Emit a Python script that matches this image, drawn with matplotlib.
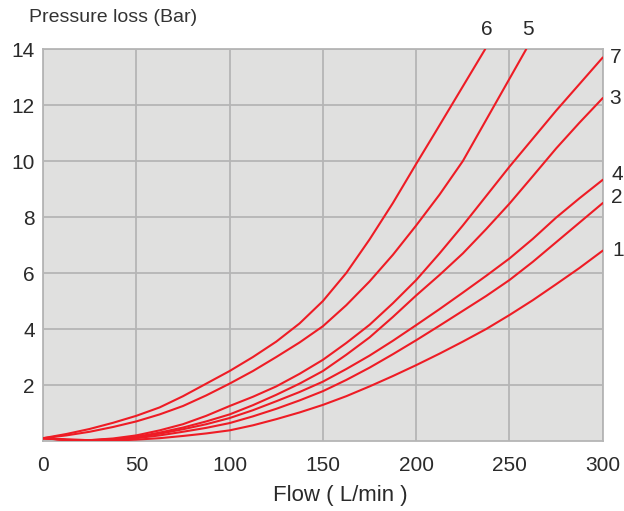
import matplotlib
matplotlib.use("Agg")
import matplotlib.pyplot as plt

plt.rcParams["font.family"] = ["Liberation Sans", "DejaVu Sans"]

# flow (L/min) and pressure loss (bar)
x_std = [0, 12.5, 25, 37.5, 50, 62.5, 75, 87.5, 100, 112.5, 125, 137.5, 150,
         162.5, 175, 187.5, 200, 212.5, 225, 237.5, 250, 262.5, 275, 287.5, 300]

x6 = [0, 12.5, 25, 37.5, 50, 62.5, 75, 87.5, 100, 112.5, 125, 137.5, 150,
      162.5, 175, 187.5, 200, 210, 219, 228, 237]
y6 = [0.1, 0.25, 0.43, 0.65, 0.9, 1.2, 1.6, 2.05, 2.5, 3.0, 3.55, 4.2, 5.0,
      6.0, 7.2, 8.5, 9.9, 11.0, 12.0, 13.0, 14.0]

x5 = [0, 12.5, 25, 37.5, 50, 62.5, 75, 87.5, 100, 112.5, 125, 137.5, 150,
      162.5, 175, 187.5, 200, 212.5, 225, 233.5, 242, 250.5, 259]
y5 = [0.1, 0.2, 0.33, 0.5, 0.7, 0.95, 1.25, 1.63, 2.05, 2.5, 3.0, 3.52, 4.1,
      4.85, 5.7, 6.65, 7.7, 8.8, 10.0, 11.0, 12.0, 13.0, 14.0]

y7 = [0.1, 0.05, 0.03, 0.09, 0.2, 0.38, 0.6, 0.9, 1.25, 1.58, 1.95, 2.4, 2.9,
      3.5, 4.15, 4.92, 5.75, 6.7, 7.7, 8.75, 9.8, 10.8, 11.8, 12.75, 13.7]
y3 = [0.1, 0.04, 0.02, 0.06, 0.15, 0.3, 0.48, 0.7, 0.95, 1.28, 1.65, 2.05, 2.5,
      3.08, 3.7, 4.43, 5.2, 5.93, 6.7, 7.57, 8.48, 9.46, 10.45, 11.37, 12.25]
y4 = [0.1, 0.05, 0.03, 0.06, 0.13, 0.26, 0.42, 0.6, 0.82, 1.1, 1.42, 1.75, 2.12,
      2.57, 3.05, 3.58, 4.14, 4.71, 5.3, 5.9, 6.52, 7.22, 7.98, 8.67, 9.33]
y2 = [0.1, 0.04, 0.02, 0.05, 0.1, 0.2, 0.33, 0.47, 0.64, 0.88, 1.15, 1.45, 1.78,
      2.18, 2.62, 3.1, 3.6, 4.12, 4.65, 5.18, 5.75, 6.4, 7.1, 7.8, 8.5]
y1 = [0.1, 0.03, 0.0, 0.01, 0.05, 0.1, 0.18, 0.27, 0.38, 0.56, 0.78, 1.02, 1.29,
      1.6, 1.95, 2.32, 2.71, 3.12, 3.55, 4.0, 4.5, 5.03, 5.6, 6.18, 6.8]

curves = [
    ("6", x6, y6, (1, 7)),
    ("5", x5, y5, (1, 7)),
    ("7", x_std, y7, (5, 0)),
    ("3", x_std, y3, (5, 0)),
    ("4", x_std, y4, (6, 4)),
    ("2", x_std, y2, (6, 4)),
    ("1", x_std, y1, (7, 0)),
]

xticks = [0, 50, 100, 150, 200, 250, 300]
yticks = [2, 4, 6, 8, 10, 12, 14]

red = "#ee1c25"
gridc = "#b5b5b5"
txt = "#2a2a2a"

fig = plt.figure(figsize=(6.24, 5.11), dpi=100)
ax = fig.add_axes([0.069, 0.137, 0.897, 0.767])
ax.set_facecolor("#e0e0df")

for name, xs, ys, off in curves:
    ax.plot(xs, ys, color=red, lw=1.5, solid_capstyle="round", zorder=3)
    ax.annotate(name, xy=(xs[-1], ys[-1]), xytext=off, textcoords="offset points",
                ha="left" if off[0] > 2 else "center",
                va="bottom" if off[1] > 6 else "center",
                fontsize=15, color=txt, annotation_clip=False)

ax.set_xlim(0, 300)
ax.set_ylim(0, 14)
ax.set_xticks(xticks)
ax.set_yticks(yticks)
ax.tick_params(length=0, labelsize=15, colors=txt)
ax.tick_params(axis="y", pad=6)
ax.tick_params(axis="x", pad=11)
ax.grid(True, color=gridc, lw=1.3)
for sp in ax.spines.values():
    sp.set_color(gridc)
    sp.set_linewidth(1.3)

fig.text(0.545, 0.031, "Flow ( L/min )", fontsize=16, color=txt, ha="center", va="center")
fig.text(0.046, 0.965, "Pressure loss (Bar)", fontsize=14, color="#333333", va="center")

fig.savefig("out.png", dpi=100)
